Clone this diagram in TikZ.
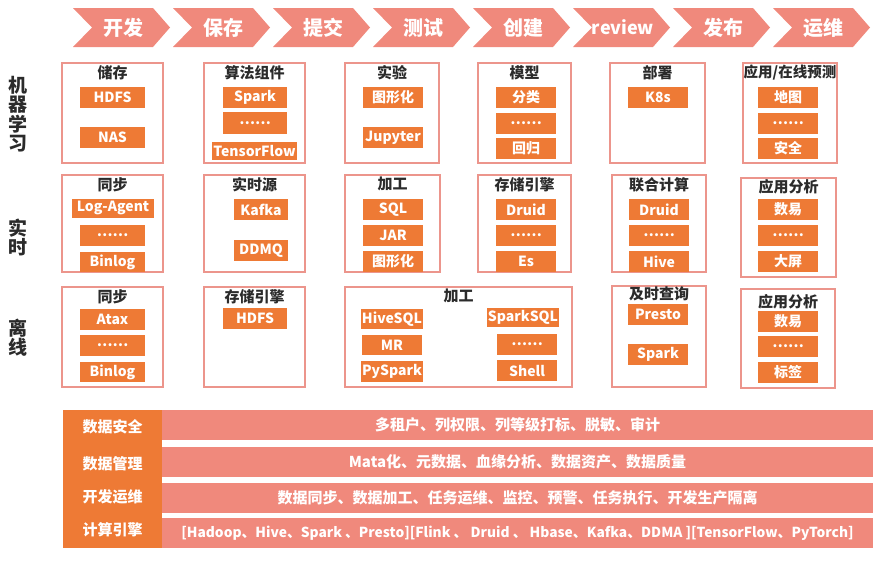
\documentclass[tikz,border=0pt]{standalone}
\usepackage{fontspec}
\setmainfont{Noto Sans CJK SC}
\usepackage{tikz}
\usetikzlibrary{positioning}
\definecolor{salmon}{HTML}{F0897C}
\definecolor{tangerine}{HTML}{EE7A35}
\definecolor{frame}{HTML}{EC958C}
\definecolor{inkgray}{HTML}{2B2B2B}

\begin{document}
\begin{tikzpicture}[x=1pt,y=-1pt,
  stage/.style={text=white,font=\fontsize{20}{22}\selectfont\bfseries},
  grp/.style={draw=frame,line width=2pt,fill=white,minimum width=96pt,minimum height=100pt},
  ttl/.style={text=inkgray,font=\fontsize{15}{16}\selectfont\bfseries,inner sep=0},
  itm/.style={fill=tangerine,text=white,font=\fontsize{14}{15}\selectfont\bfseries,
    minimum width=60pt,minimum height=21pt,inner sep=1pt},
  rowlbl/.style={text=inkgray,align=center,font=\fontsize{19}{19.5}\selectfont\bfseries},
  bar/.style={fill=salmon,text=white,minimum width=711pt,minimum height=30pt,inner sep=0,
    font=\fontsize{15}{16}\selectfont\bfseries},
  side/.style={text=white,font=\fontsize{15}{16}\selectfont\bfseries}]
  \useasboundingbox (0,0) rectangle (890,560);

  % stages
  \foreach \t/\fs [count=\i] in {开发/20,保存/20,提交/20,测试/20,创建/20,review/18,发布/20,运维/20} {
    \pgfmathsetmacro\x{73+100*(\i-1)}
    \fill[salmon] (\x,8) -- ++(80,0) -- ++(17,19.5) -- ++(-17,19.5) -- ++(-80,0) -- ++(19,-19.5) -- cycle;
    \node[stage,font=\fontsize{\fs}{22}\selectfont\bfseries] (st\i) at (\x+50,27.5) {\t};
  }

  % row labels
  \node[rowlbl] (lml) at (18,114) {机\\器\\学\\习};
  \node[rowlbl] (lrt) at (18,237.5) {实\\时};
  \node[rowlbl] (loff) at (18,337.5) {离\\线};

  % machine learning
  \node[grp,minimum width=101pt] (ml1) at (112.5,113) {};
  \node[grp,minimum width=101pt] (ml2) at (254.5,113) {};
  \node[grp,minimum width=94pt] (ml3) at (392,113) {};
  \node[grp,minimum width=93pt] (ml4) at (524.5,113) {};
  \node[grp,minimum width=95pt] (ml5) at (657.5,113) {};
  \node[grp,minimum width=94pt] (ml6) at (790,113) {};
  \node[ttl,below=3pt of ml1.north] (ml1t) {储存};
  \node[ttl,below=3pt of ml2.north] (ml2t) {算法组件};
  \node[ttl,below=3pt of ml3.north] (ml3t) {实验};
  \node[ttl,below=3pt of ml4.north] (ml4t) {模型};
  \node[ttl,below=3pt of ml5.north] (ml5t) {部署};
  \node[ttl,below=3pt of ml6.north,font=\fontsize{14.5}{16}\selectfont\bfseries] (ml6t) {应用/在线预测};
  \node[itm,minimum width=65pt] (ml1a) at (112.5,97.5) {HDFS};
  \node[itm,minimum width=65pt] (ml1b) at (112.5,137) {NAS};
  \node[itm,minimum width=64pt] (ml2a) at (255,97.5) {Spark};
  \node[itm,minimum width=64pt,minimum height=22pt] (ml2b) at (255,123) {……};
  \node[itm,minimum width=81pt,minimum height=18pt] (ml2c) at (254.5,151) {TensorFlow};
  \node[itm] (ml3a) at (393,97.5) {图形化};
  \node[itm] (ml3b) at (393,137.5) {Jupyter};
  \node[itm] (ml4a) at (526,97.5) {分类};
  \node[itm] (ml4b) at (526,123) {……};
  \node[itm] (ml4c) at (526,148.5) {回归};
  \node[itm] (ml5a) at (658,97.5) {K8s};
  \node[itm] (ml6a) at (788,97.5) {地图};
  \node[itm] (ml6b) at (788,123) {……};
  \node[itm] (ml6c) at (788,148.5) {安全};

  % real time
  \node[grp,minimum width=101pt,minimum height=97pt] (rt1) at (112.5,223.5) {};
  \node[grp,minimum width=101pt,minimum height=97pt] (rt2) at (254.5,223.5) {};
  \node[grp,minimum width=95pt,minimum height=97pt] (rt3) at (392.5,223.5) {};
  \node[grp,minimum width=93pt,minimum height=97pt] (rt4) at (524.5,223.5) {};
  \node[grp,minimum width=94pt,minimum height=97pt] (rt5) at (659,223.5) {};
  \node[grp,minimum width=95pt,minimum height=99pt] (rt6) at (788.5,227) {};
  \node[ttl,below=3pt of rt1.north] (rt1t) {同步};
  \node[ttl,below=3pt of rt2.north] (rt2t) {实时源};
  \node[ttl,below=3pt of rt3.north] (rt3t) {加工};
  \node[ttl,below=3pt of rt4.north] (rt4t) {存储引擎};
  \node[ttl,below=3pt of rt5.north] (rt5t) {联合计算};
  \node[ttl,below=3pt of rt6.north] (rt6t) {应用分析};
  \node[itm,minimum width=82pt,minimum height=19pt] (rt1a) at (113,208) {Log-Agent};
  \node[itm,minimum width=65pt] (rt1b) at (112.5,235.5) {……};
  \node[itm,minimum width=65pt,minimum height=20pt] (rt1c) at (112.5,262) {Binlog};
  \node[itm,minimum width=54pt] (rt2a) at (261,209.5) {Kafka};
  \node[itm,minimum width=54pt] (rt2b) at (261,250.5) {DDMQ};
  \node[itm] (rt3a) at (393,209.5) {SQL};
  \node[itm] (rt3b) at (393,235.5) {JAR};
  \node[itm] (rt3c) at (393,261.5) {图形化};
  \node[itm] (rt4a) at (526,209.5) {Druid};
  \node[itm] (rt4b) at (526,235.5) {……};
  \node[itm] (rt4c) at (526,261.5) {Es};
  \node[itm] (rt5a) at (659,209.5) {Druid};
  \node[itm] (rt5b) at (659,235.5) {……};
  \node[itm] (rt5c) at (659,261.5) {Hive};
  \node[itm] (rt6a) at (788,209.5) {数易};
  \node[itm] (rt6b) at (788,235.5) {……};
  \node[itm] (rt6c) at (788,261.5) {大屏};

  % offline
  \node[grp,minimum width=101pt] (off1) at (112.5,337) {};
  \node[grp,minimum width=101pt] (off2) at (254.5,337) {};
  \node[grp,minimum width=227pt] (off3) at (458.5,337) {};
  \node[grp,minimum width=94pt,minimum height=101pt] (off4) at (659,336.5) {};
  \node[grp,minimum width=94pt,minimum height=99pt] (off5) at (788,338.5) {};
  \node[ttl,below=3pt of off1.north] (off1t) {同步};
  \node[ttl,below=3pt of off2.north] (off2t) {存储引擎};
  \node[ttl,below=3pt of off3.north] (off3t) {加工};
  \node[ttl,below=1pt of off4.north] (off4t) {及时查询};
  \node[ttl,below=6pt of off5.north] (off5t) {应用分析};
  \node[itm,minimum width=65pt] (off1a) at (112.5,319.5) {Atax};
  \node[itm,minimum width=65pt] (off1b) at (112.5,345.5) {……};
  \node[itm,minimum width=65pt,minimum height=20pt] (off1c) at (112.5,372) {Binlog};
  \node[itm,minimum width=64pt] (off2a) at (255,318.5) {HDFS};
  \node[itm,minimum height=20pt] (off3a) at (392,319) {HiveSQL};
  \node[itm,minimum height=20pt] (off3b) at (392,345) {MR};
  \node[itm,minimum height=21pt] (off3c) at (392,371) {PySpark};
  \node[itm,minimum width=68pt,minimum height=19pt] (off3d) at (523,317) {SparkSQL};
  \node[itm] (off3e) at (527,344.5) {……};
  \node[itm] (off3f) at (527,370.5) {Shell};
  \node[itm] (off4a) at (658,314.5) {Presto};
  \node[itm] (off4b) at (658,354) {Spark};
  \node[itm] (off5a) at (788,321) {数易};
  \node[itm] (off5b) at (788,346.5) {……};
  \node[itm] (off5c) at (788,372) {标签};

  % base layers
  \node[fill=tangerine,minimum width=99pt,minimum height=138pt,inner sep=0] (col) at (112.5,479) {};
  \node[bar] (b1) at (517.5,425) {多租户、列权限、列等级打标、脱敏、审计};
  \node[bar] (b2) at (517.5,462) {Mata化、元数据、血缘分析、数据资产、数据质量};
  \node[bar] (b3) at (517.5,498) {数据同步、数据加工、任务运维、监控、预警、任务执行、开发生产隔离};
  \node[bar,font=\fontsize{13.8}{15}\selectfont\bfseries] (b4) at (517.5,533) {[Hadoop、Hive、Spark 、Presto][Flink 、 Druid 、 Hbase、Kafka、DDMA ][TensorFlow、PyTorch]};
  \node[side] (c1) at (112.5,427) {数据安全};
  \node[side] (c2) at (112.5,464) {数据管理};
  \node[side] (c3) at (112.5,497) {开发运维};
  \node[side] (c4) at (112.5,530) {计算引擎};
\end{tikzpicture}
\end{document}
